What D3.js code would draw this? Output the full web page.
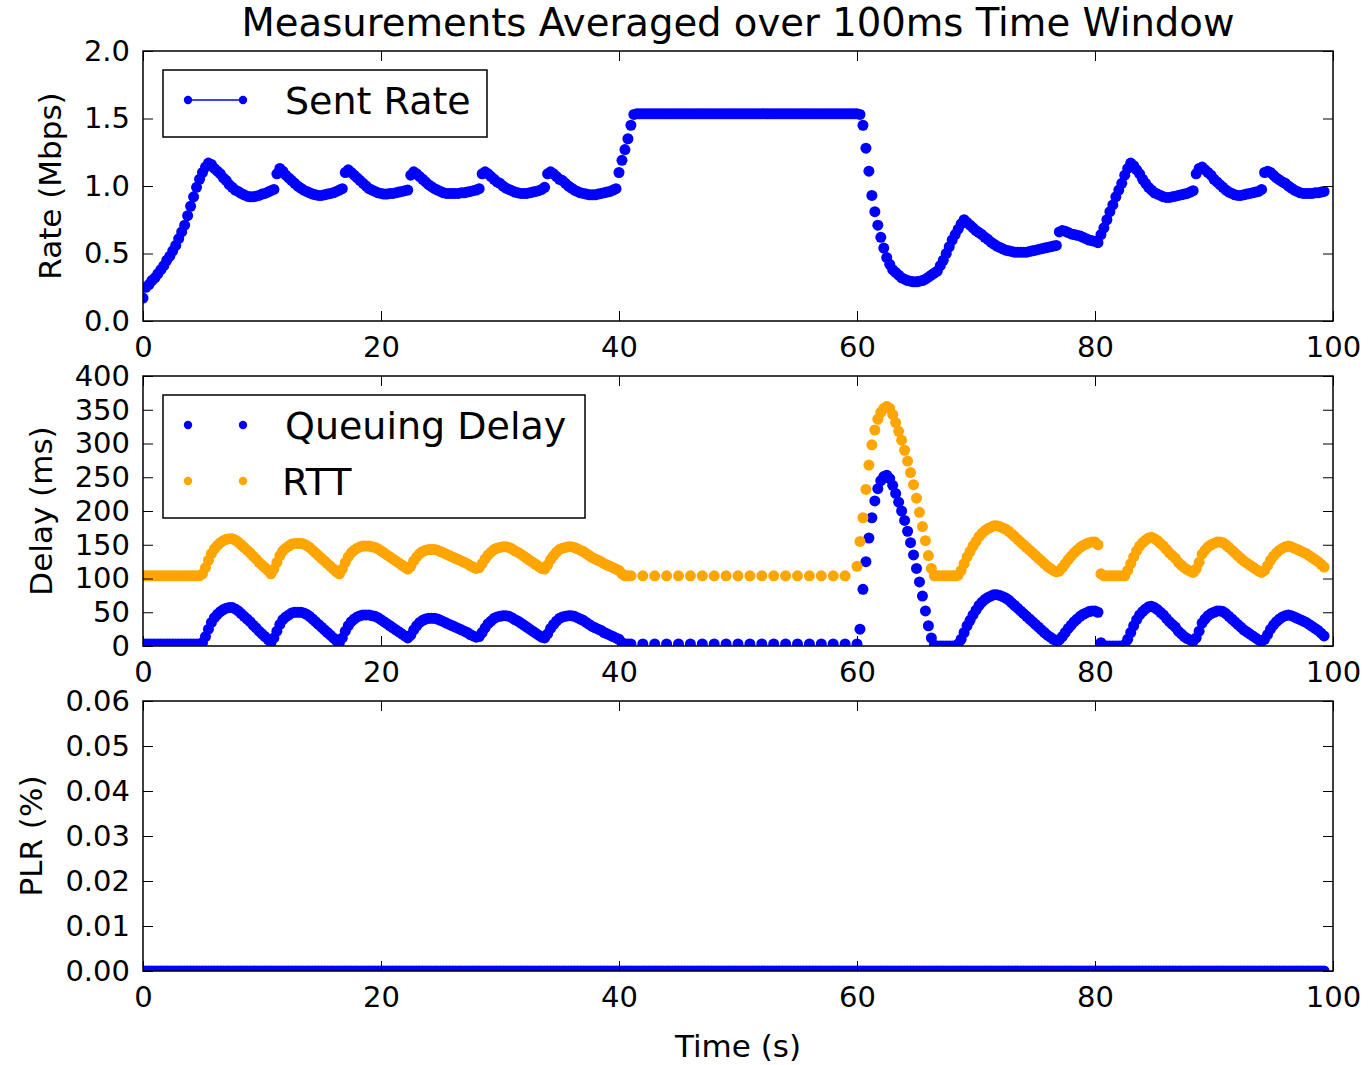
<!DOCTYPE html>
<html><head><meta charset="utf-8">
<script src="https://cdn.jsdelivr.net/npm/d3@7"></script>
<style>
body{margin:0;background:#fff}
svg{display:block}
text{font-family:"DejaVu Sans",sans-serif;fill:#000}
</style>
</head><body>
<svg id="chart" width="1369" height="1065"></svg>
<script>
// sampling step of the series (seconds)
const timeStep = 0.25;

// Sent rate (Mbps), one row per second
const sentRate = [
0.17,0.25,0.27,0.30,
0.32,0.35,0.38,0.41,
0.45,0.48,0.52,0.56,
0.61,0.66,0.71,0.78,
0.85,0.92,0.99,1.05,
1.10,1.14,1.17,1.16,
1.13,1.11,1.09,1.06,
1.04,1.01,0.99,0.97,
0.96,0.945,0.935,0.925,
0.92,0.92,0.925,0.93,
0.94,0.945,0.955,0.965,
0.975,1.09,1.13,1.11,
1.08,1.06,1.04,1.02,
1.00,0.985,0.97,0.96,
0.95,0.94,0.935,0.93,
0.93,0.935,0.94,0.945,
0.95,0.96,0.97,0.98,
1.10,1.12,1.10,1.08,
1.06,1.04,1.02,1.00,
0.98,0.97,0.96,0.95,
0.945,0.94,0.94,0.945,
0.945,0.95,0.955,0.96,
0.965,0.97,1.08,1.105,
1.09,1.07,1.05,1.03,
1.01,0.995,0.98,0.97,
0.96,0.95,0.945,0.945,
0.945,0.945,0.945,0.95,
0.95,0.955,0.96,0.965,
0.97,0.98,1.09,1.105,
1.09,1.07,1.05,1.03,
1.02,1.00,0.985,0.975,
0.965,0.955,0.95,0.945,
0.945,0.945,0.95,0.955,
0.96,0.965,0.975,0.99,
1.09,1.105,1.09,1.07,
1.05,1.04,1.02,1.00,
0.985,0.97,0.96,0.95,
0.945,0.94,0.935,0.935,
0.935,0.94,0.945,0.95,
0.955,0.96,0.97,0.98,
1.10,1.19,1.27,1.35,
1.45,1.53,1.535,1.535,
1.535,1.535,1.535,1.535,
1.535,1.535,1.535,1.535,
1.535,1.535,1.535,1.535,
1.535,1.535,1.535,1.535,
1.535,1.535,1.535,1.535,
1.535,1.535,1.535,1.535,
1.535,1.535,1.535,1.535,
1.535,1.535,1.535,1.535,
1.535,1.535,1.535,1.535,
1.535,1.535,1.535,1.535,
1.535,1.535,1.535,1.535,
1.535,1.535,1.535,1.535,
1.535,1.535,1.535,1.535,
1.535,1.535,1.535,1.535,
1.535,1.535,1.535,1.535,
1.535,1.535,1.535,1.535,
1.535,1.535,1.535,1.535,
1.535,1.535,1.535,1.535,
1.535,1.53,1.45,1.28,
1.11,0.93,0.81,0.71,
0.62,0.54,0.47,0.42,
0.38,0.36,0.34,0.32,
0.31,0.30,0.295,0.29,
0.29,0.295,0.30,0.31,
0.325,0.34,0.355,0.37,
0.41,0.45,0.50,0.55,
0.60,0.64,0.68,0.72,
0.75,0.73,0.71,0.69,
0.67,0.655,0.64,0.62,
0.605,0.585,0.57,0.555,
0.545,0.535,0.525,0.52,
0.515,0.51,0.51,0.51,
0.51,0.51,0.515,0.52,
0.525,0.53,0.535,0.54,
0.545,0.55,0.555,0.56,
0.66,0.67,0.665,0.655,
0.645,0.64,0.635,0.63,
0.62,0.61,0.60,0.595,
0.59,0.58,0.64,0.69,
0.75,0.81,0.86,0.92,
0.97,1.02,1.08,1.13,
1.17,1.15,1.12,1.09,
1.05,1.02,0.99,0.97,
0.95,0.94,0.93,0.92,
0.915,0.915,0.92,0.925,
0.93,0.935,0.94,0.945,
0.955,0.965,1.09,1.13,
1.14,1.12,1.10,1.08,
1.05,1.03,1.01,0.99,
0.97,0.955,0.945,0.935,
0.93,0.93,0.935,0.94,
0.945,0.95,0.955,0.96,
0.975,1.10,1.11,1.10,
1.08,1.06,1.045,1.03,
1.02,1.00,0.985,0.97,
0.96,0.95,0.945,0.945,
0.945,0.945,0.95,0.95,
0.955,0.96
];

// Queuing delay (ms); null = no sample in that slot (sparse between 41 s and 60 s)
const queuingDelay = [
3,3,3,3,
3,3,3,3,
3,3,3,3,
3,3,3,3,
3,3,3,3,
5,14,25,35,
42,47,51,54,
56,57,57,55,
52,48,44,40,
36,31,27,22,
18,14,10,5,
12,22,32,39,
43,46,49,50,
50,50,49,47,
44,40,36,32,
28,24,20,16,
12,8,5,12,
22,30,36,40,
43,45,46,46,
46,45,44,42,
39,36,33,30,
27,24,21,18,
15,12,16,24,
30,35,38,40,
41,41,41,40,
38,36,34,32,
30,28,26,24,
22,20,17,15,
13,14,20,27,
33,37,41,43,
44,45,45,44,
42,39,37,34,
31,28,25,22,
19,16,13,12,
18,26,32,37,
41,43,44,45,
45,44,42,40,
38,35,32,29,
27,25,23,20,
18,16,14,12,
10,5,3,3,
3,null,null,null,
3,null,null,null,
3,null,null,null,
3,null,null,null,
3,null,null,null,
3,null,null,null,
3,null,null,null,
3,null,null,null,
3,null,null,null,
3,null,null,null,
3,null,null,null,
3,null,null,null,
3,null,null,null,
3,null,null,null,
3,null,null,null,
3,null,null,null,
3,null,null,null,
3,null,null,null,
3,null,null,null,
3,25,84,125,
160,190,215,233,
245,251,253,248,
238,226,213,200,
186,170,153,135,
115,95,74,52,
30,12,1,0,
0,0,0,0,
0,0,3,10,
20,30,38,46,
53,60,65,69,
72,74,76,76,
75,73,71,68,
64,60,56,52,
48,44,40,36,
32,28,24,20,
16,13,10,8,
9,14,20,26,
31,36,40,44,
47,49,51,52,
52,50,5,0,
0,0,0,0,
0,0,2,10,
20,30,39,46,
51,55,58,59,
57,54,50,46,
41,36,32,28,
22,18,14,11,
9,7,12,22,
34,40,45,48,
50,52,52,51,
48,44,40,36,
32,28,24,21,
18,15,12,9,
7,10,17,25,
31,36,40,43,
45,46,45,43,
41,39,37,35,
32,29,26,23,
19,15
];

// RTT (ms)
const rtt = [
104,104,104,104,
104,104,104,104,
104,104,104,104,
104,104,104,104,
104,104,104,104,
107,116,127,137,
144,149,153,156,
158,159,159,157,
154,150,146,142,
138,133,129,124,
120,116,112,107,
114,124,134,141,
145,148,151,152,
152,152,151,149,
146,142,138,134,
130,126,122,118,
114,110,107,114,
124,132,138,142,
145,147,148,148,
148,147,146,144,
141,138,135,132,
129,126,123,120,
117,114,118,126,
132,137,140,142,
143,143,143,142,
140,138,136,134,
132,130,128,126,
124,122,119,117,
115,116,122,129,
135,139,143,145,
146,147,147,146,
144,141,139,136,
133,130,127,124,
121,118,115,114,
120,128,134,139,
143,145,146,147,
147,146,144,142,
140,137,134,131,
129,127,125,122,
120,118,116,114,
112,107,104,104,
104,null,null,null,
104,null,null,null,
104,null,null,null,
104,null,null,null,
104,null,null,null,
104,null,null,null,
104,null,null,null,
104,null,null,null,
104,null,null,null,
104,null,null,null,
104,null,null,null,
104,null,null,null,
104,null,null,null,
104,null,null,null,
104,null,null,null,
104,null,null,null,
104,null,null,null,
104,null,null,null,
104,null,null,null,
118,155,190,232,
268,298,320,336,
346,352,355,352,
343,331,318,305,
290,274,257,239,
219,198,177,156,
134,115,104,104,
104,104,104,104,
104,104,105,112,
122,132,140,148,
155,162,167,171,
174,176,178,178,
177,175,173,170,
166,162,158,154,
150,146,142,138,
134,130,126,122,
118,115,112,110,
111,116,122,128,
133,138,142,146,
149,151,153,154,
154,150,107,104,
104,104,104,104,
104,104,104,112,
122,132,141,148,
153,157,160,161,
159,156,152,148,
143,138,134,130,
124,120,116,113,
111,109,114,124,
136,142,147,150,
152,154,154,153,
150,146,142,138,
134,130,126,123,
120,117,114,111,
109,112,119,127,
133,138,142,145,
147,148,147,145,
143,141,139,137,
134,131,128,125,
121,117
];

// Packet loss ratio (%)
const plr = [
0,0,0,0,0,0,0,0,0,0,0,0,0,0,0,0,0,0,0,0,0,0,0,0,0,0,0,0,0,0,0,0,0,0,0,0,0,0,0,0,
0,0,0,0,0,0,0,0,0,0,0,0,0,0,0,0,0,0,0,0,0,0,0,0,0,0,0,0,0,0,0,0,0,0,0,0,0,0,0,0,
0,0,0,0,0,0,0,0,0,0,0,0,0,0,0,0,0,0,0,0,0,0,0,0,0,0,0,0,0,0,0,0,0,0,0,0,0,0,0,0,
0,0,0,0,0,0,0,0,0,0,0,0,0,0,0,0,0,0,0,0,0,0,0,0,0,0,0,0,0,0,0,0,0,0,0,0,0,0,0,0,
0,0,0,0,0,0,0,0,0,0,0,0,0,0,0,0,0,0,0,0,0,0,0,0,0,0,0,0,0,0,0,0,0,0,0,0,0,0,0,0,
0,0,0,0,0,0,0,0,0,0,0,0,0,0,0,0,0,0,0,0,0,0,0,0,0,0,0,0,0,0,0,0,0,0,0,0,0,0,0,0,
0,0,0,0,0,0,0,0,0,0,0,0,0,0,0,0,0,0,0,0,0,0,0,0,0,0,0,0,0,0,0,0,0,0,0,0,0,0,0,0,
0,0,0,0,0,0,0,0,0,0,0,0,0,0,0,0,0,0,0,0,0,0,0,0,0,0,0,0,0,0,0,0,0,0,0,0,0,0,0,0,
0,0,0,0,0,0,0,0,0,0,0,0,0,0,0,0,0,0,0,0,0,0,0,0,0,0,0,0,0,0,0,0,0,0,0,0,0,0,0,0,
0,0,0,0,0,0,0,0,0,0,0,0,0,0,0,0,0,0,0,0,0,0,0,0,0,0,0,0,0,0,0,0,0,0,0,0,0,0
];

// tick values
const xTicks = [0,20,40,60,80,100];
const rateTicks = [0,0.5,1.0,1.5,2.0];
const delayTicks = [0,50,100,150,200,250,300,350,400];
const plrTicks = [0,0.01,0.02,0.03,0.04,0.05,0.06];

const titleText = "Measurements Averaged over 100ms Time Window";
const xLabelText = "Time (s)";

// ---------------- drawing ----------------
const svg = d3.select("#chart");
const X0 = 143, X1 = 1333;
const x = d3.scaleLinear().domain([0,100]).range([X0, X1]);
const BLUE = "#0000ff", ORANGE = "#ffa500";
const R = 5.5;
const LEG_R = 4.2;
const TICK_FS = 29;

const panels = [
  {id:"rate", top:51, bottom:321, domain:[0,2], ticks:rateTicks, fmt:d3.format(".1f"), label:"Rate (Mbps)", labelX:49.5,
   series:[{values:sentRate, color:BLUE}]},
  {id:"delay", top:376, bottom:646, domain:[0,400], ticks:delayTicks, fmt:d3.format("d"), label:"Delay (ms)", labelX:40.5,
   series:[{values:queuingDelay, color:BLUE},{values:rtt, color:ORANGE}]},
  {id:"plr", top:701, bottom:971, domain:[0,0.06], ticks:plrTicks, fmt:d3.format(".2f"), label:"PLR (%)", labelX:31,
   series:[{values:plr, color:BLUE}]}
];

const defs = svg.append("defs");

panels.forEach(p => {
  const y = d3.scaleLinear().domain(p.domain).range([p.bottom, p.top]);
  const g = svg.append("g");
  defs.append("clipPath").attr("id", "clip-" + p.id)
    .append("rect").attr("x", X0).attr("y", p.top).attr("width", X1 - X0).attr("height", p.bottom - p.top);

  const dots = g.append("g").attr("clip-path", `url(#clip-${p.id})`);
  p.series.forEach(s => {
    const pts = s.values.map((v, i) => ({t: i * timeStep, v})).filter(d => d.v !== null);
    dots.append("g").selectAll("circle").data(pts).join("circle")
      .attr("cx", d => x(d.t))
      .attr("cy", d => y(d.v))
      .attr("r", R)
      .attr("fill", s.color);
  });

  // axes with inward ticks on all four sides
  const left = g.append("g").attr("transform", `translate(${X0},0)`)
    .call(d3.axisLeft(y).tickValues(p.ticks).tickFormat(p.fmt).tickSizeInner(-10).tickSizeOuter(0).tickPadding(13));
  const right = g.append("g").attr("transform", `translate(${X1},0)`)
    .call(d3.axisRight(y).tickValues(p.ticks).tickFormat("").tickSizeInner(-10).tickSizeOuter(0));
  const bottom = g.append("g").attr("transform", `translate(0,${p.bottom})`)
    .call(d3.axisBottom(x).tickValues(xTicks).tickFormat(d3.format("d")).tickSizeInner(-10).tickSizeOuter(0).tickPadding(15));
  const top = g.append("g").attr("transform", `translate(0,${p.top})`)
    .call(d3.axisTop(x).tickValues(xTicks).tickFormat("").tickSizeInner(-10).tickSizeOuter(0));
  [left, right, bottom, top].forEach(a => {
    a.select(".domain").remove();
    a.selectAll(".tick line").attr("stroke", "#000").attr("stroke-width", 1);
    a.selectAll(".tick text").attr("font-family", "DejaVu Sans").attr("font-size", TICK_FS).attr("fill", "#000");
  });

  g.append("rect").attr("x", X0).attr("y", p.top).attr("width", X1 - X0).attr("height", p.bottom - p.top)
    .attr("fill", "none").attr("stroke", "#000").attr("stroke-width", 1.5);

  g.append("text")
    .attr("transform", `translate(${p.labelX},${(p.top + p.bottom) / 2}) rotate(-90)`)
    .attr("text-anchor", "middle").attr("dominant-baseline", "central")
    .attr("font-size", 31).text(p.label);
});

// title and x label
svg.append("text").attr("x", (X0 + X1) / 2).attr("y", 36).attr("text-anchor", "middle")
  .attr("font-size", 38.6).text(titleText);
svg.append("text").attr("x", (X0 + X1) / 2).attr("y", 1057).attr("text-anchor", "middle")
  .attr("font-size", 31).text(xLabelText);

// legends
function legend(box, items) {
  const g = svg.append("g");
  g.append("rect").attr("x", box.x).attr("y", box.y).attr("width", box.w).attr("height", box.h)
    .attr("fill", "#fff").attr("stroke", "#000").attr("stroke-width", 1.5);
  items.forEach(it => {
    if (it.line) {
      g.append("line").attr("x1", 188).attr("x2", 243).attr("y1", it.y).attr("y2", it.y)
        .attr("stroke", it.color).attr("stroke-width", 1.5);
    }
    [188, 243].forEach(cx => g.append("circle").attr("cx", cx).attr("cy", it.y).attr("r", LEG_R).attr("fill", it.color));
    g.append("text").attr("x", it.tx).attr("y", it.y).attr("dy", "0.36em").attr("font-size", 38).text(it.label);
  });
}
legend({x:163, y:70, w:324, h:67}, [{label:"Sent Rate", color:BLUE, y:100, tx:285, line:true}]);
legend({x:163, y:395, w:422, h:123}, [
  {label:"Queuing Delay", color:BLUE, y:425, tx:285, line:false},
  {label:"RTT", color:ORANGE, y:481, tx:282, line:false}
]);
</script>
</body></html>
